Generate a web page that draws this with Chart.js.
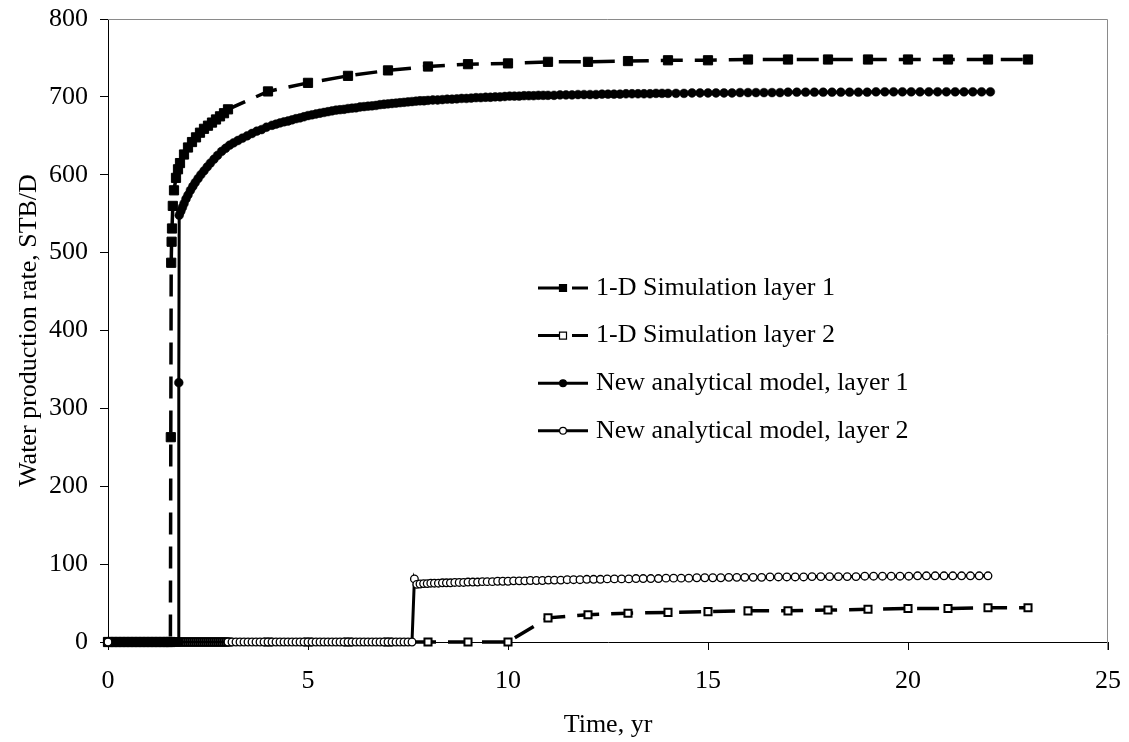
<!DOCTYPE html>
<html>
<head>
<meta charset="utf-8">
<title>Water production rate</title>
<script src="https://cdn.jsdelivr.net/npm/chart.js@4.4.0/dist/chart.umd.min.js"></script>
<style>
  html, body { margin: 0; padding: 0; background: #fff; }
  #wrap { width: 1129px; height: 742px; }
</style>
</head>
<body>
<div id="wrap"><canvas id="rateChart" width="1129" height="742"></canvas></div>
<script>
// series names, axis ticks
var seriesNames = ["1-D Simulation layer 1", "1-D Simulation layer 2",
                   "New analytical model, layer 1", "New analytical model, layer 2"];
var xTicks = [0, 5, 10, 15, 20, 25];
var yTicks = [0, 100, 200, 300, 400, 500, 600, 700, 800];

// 1-D simulation, layer 1 (yr, STB/D)
var simTime1 = [0, 0.1, 0.2, 0.3, 0.4, 0.5, 0.6, 0.7, 0.8, 0.9, 1.0, 1.1, 1.2, 1.3, 1.4, 1.5, 1.56,
                1.57, 1.58, 1.59, 1.6, 1.62, 1.65, 1.7, 1.75, 1.8,
                1.9, 2.0, 2.1, 2.2, 2.3, 2.4, 2.5, 2.6, 2.7, 2.8, 2.9, 3.0,
                4, 5, 6, 7, 8, 9, 10, 11, 12, 13, 14, 15, 16, 17, 18, 19, 20, 21, 22, 23];
var simRate1 = [0, 0, 0, 0, 0, 0, 0, 0, 0, 0, 0, 0, 0, 0, 0, 0, 0,
                263, 487, 514, 531, 560, 580, 596, 607, 615,
                626, 635, 642, 648, 654, 659, 663, 667, 671, 675, 679, 684,
                707, 718, 727, 734, 739, 742, 743, 745, 745, 746, 747, 747, 748, 748, 748, 748, 748, 748, 748, 748];

// 1-D simulation, layer 2
var simTime2 = [0, 0.05, 0.1, 0.15, 0.2, 0.25, 0.3, 0.35, 0.4, 0.45, 0.5, 0.55, 0.6, 0.65, 0.7, 0.75,
                0.8, 0.85, 0.9, 0.95, 1, 1.05, 1.1, 1.15, 1.2, 1.25, 1.3, 1.35, 1.4, 1.45, 1.5, 1.55,
                1.6, 1.65, 1.7, 1.75, 1.8, 1.85, 1.9, 1.95, 2, 2.05, 2.1, 2.15, 2.2, 2.25, 2.3, 2.35,
                2.4, 2.45, 2.5, 2.55, 2.6, 2.65, 2.7, 2.75, 2.8, 2.85, 2.9, 2.95, 3,
                4, 5, 6, 7, 8, 9, 10, 11, 12, 13, 14, 15, 16, 17, 18, 19, 20, 21, 22, 23];
var simRate2 = [0, 0, 0, 0, 0, 0, 0, 0, 0, 0, 0, 0, 0, 0, 0, 0,
                0, 0, 0, 0, 0, 0, 0, 0, 0, 0, 0, 0, 0, 0, 0, 0,
                0, 0, 0, 0, 0, 0, 0, 0, 0, 0, 0, 0, 0, 0, 0, 0,
                0, 0, 0, 0, 0, 0, 0, 0, 0, 0, 0, 0, 0,
                0, 0, 0, 0, 0, 0, 0, 31, 35, 37, 38, 39, 40, 40, 41, 42, 43, 43, 44, 44];

// analytical model, layer 1
var modelTime1 = [0, 0.1, 0.2, 0.3, 0.4, 0.5, 0.6, 0.7, 0.8, 0.9, 1.0, 1.1, 1.2, 1.3, 1.4, 1.5, 1.6, 1.7, 1.77,
                  1.77, 1.78, 1.82, 1.86, 1.9, 1.95, 2.0, 2.06, 2.12, 2.18, 2.25, 2.32, 2.4, 2.48, 2.56,
                  2.65, 2.74, 2.84, 2.94, 3.04, 3.14, 3.25, 3.36, 3.48, 3.6, 3.72, 3.84, 3.96,
                  4.1, 4.2, 4.3, 4.4, 4.5, 4.6, 4.7, 4.8, 4.9, 5.0, 5.1, 5.2, 5.3, 5.4, 5.5, 5.6, 5.7,
                  5.8, 5.9, 6.0, 6.1, 6.2, 6.3, 6.4, 6.5, 6.6, 6.7, 6.8, 6.9, 7.0, 7.1, 7.2, 7.3, 7.4,
                  7.5, 7.6, 7.7, 7.8, 7.9, 8.0,
                  8.12, 8.24, 8.36, 8.48, 8.6, 8.72, 8.84, 8.96, 9.08, 9.2, 9.32, 9.44, 9.56, 9.68,
                  9.8, 9.92, 10.04, 10.16, 10.28, 10.4, 10.52, 10.64, 10.76, 10.88, 11.0,
                  11.15, 11.3, 11.45, 11.6, 11.75, 11.9, 12.05, 12.2, 12.35, 12.5, 12.65, 12.8, 12.95,
                  13.1, 13.25, 13.4, 13.55, 13.7, 13.85, 14.0,
                  14.2, 14.4, 14.6, 14.8, 15.0, 15.2, 15.4, 15.6, 15.8, 16.0, 16.2, 16.4, 16.6, 16.8,
                  17.0, 17.22, 17.44, 17.66, 17.88, 18.1, 18.32, 18.54, 18.76, 18.98, 19.2, 19.42,
                  19.64, 19.86, 20.08, 20.3, 20.52, 20.74, 20.96, 21.18, 21.4, 21.62, 21.84, 22.06];
var modelRate1 = [0, 0, 0, 0, 0, 0, 0, 0, 0, 0, 0, 0, 0, 0, 0, 0, 0, 0, 0,
                  333, 548, 553, 558, 563, 569, 574, 580, 585, 590, 595, 600, 605, 610, 615,
                  620, 625, 630, 634, 638, 641, 644, 647, 650, 653, 656, 658, 661,
                  663.5, 665, 666.5, 668, 669, 670.5, 672, 673, 674.5, 676, 677, 678, 679, 680, 681, 682, 683,
                  683.5, 684, 685, 685.5, 686, 687, 687.5, 688, 688.5, 689, 690, 690.5, 691, 691.5, 692, 692.5, 693,
                  693.5, 694, 694.5, 695, 695, 695.5,
                  696, 696, 696.5, 697, 697, 697.5, 698, 698, 698.5, 699, 699, 699.5, 699.5, 700,
                  700, 700.5, 701, 701, 701, 701.5, 701.5, 701.5, 702, 702, 702,
                  702, 702.5, 702.5, 702.5, 703, 703, 703, 703, 703.5, 703.5, 703.5, 703.5, 704,
                  704, 704, 704, 704, 704.5, 704.5, 704.5,
                  704.5, 704.5, 705, 705, 705, 705, 705, 705, 705.5, 705.5, 705.5, 705.5, 705.5, 705.5,
                  706, 706, 706, 706, 706, 706, 706, 706, 706, 706, 706.5, 706.5,
                  706.5, 706.5, 706.5, 706.5, 706.5, 706.5, 706.5, 706.5, 706.5, 706.5, 706.5, 706.5];

// analytical model, layer 2
var modelTime2 = [0, 3.0, 3.1, 3.2, 3.3, 3.4, 3.5, 3.6, 3.7, 3.8, 3.9, 4.0, 4.1, 4.2, 4.3, 4.4, 4.5,
                  4.6, 4.7, 4.8, 4.9, 5.0, 5.1, 5.2, 5.3, 5.4, 5.5, 5.6, 5.7, 5.8, 5.9, 6.0, 6.1,
                  6.2, 6.3, 6.4, 6.5, 6.6, 6.7, 6.8, 6.9, 7.0, 7.1, 7.2, 7.3, 7.4, 7.5, 7.6,
                  7.66, 7.72, 7.8, 7.89, 7.98, 8.07, 8.16, 8.26, 8.36, 8.46, 8.56, 8.67, 8.78, 8.89,
                  9.0, 9.12, 9.24, 9.36, 9.48, 9.61, 9.74, 9.87, 10.0, 10.14, 10.28, 10.42, 10.56,
                  10.71, 10.86, 11.01, 11.16, 11.32, 11.48, 11.64, 11.8, 11.97, 12.14, 12.31, 12.48,
                  12.66, 12.84, 13.02, 13.2, 13.38, 13.57, 13.76, 13.95, 14.14, 14.33, 14.52, 14.72,
                  14.92, 15.12, 15.32, 15.52, 15.72, 15.92, 16.13, 16.34, 16.55, 16.76, 16.97, 17.18,
                  17.39, 17.6, 17.82, 18.04, 18.26, 18.48, 18.7, 18.92, 19.14, 19.36, 19.58, 19.8,
                  20.02, 20.24, 20.46, 20.68, 20.9, 21.12, 21.34, 21.56, 21.78, 22.0];
var modelRate2 = [0, 0, 0, 0, 0, 0, 0, 0, 0, 0, 0, 0, 0, 0, 0, 0, 0,
                  0, 0, 0, 0, 0, 0, 0, 0, 0, 0, 0, 0, 0, 0, 0, 0,
                  0, 0, 0, 0, 0, 0, 0, 0, 0, 0, 0, 0, 0, 0, 0,
                  81, 74, 74.5, 75, 75, 75.5, 75.5, 75.5, 76, 76, 76, 76.5, 76.5, 76.5,
                  77, 77, 77, 77.5, 77.5, 77.5, 78, 78, 78, 78.5, 78.5, 78.5, 79,
                  79, 79, 79.5, 79.5, 79.5, 80, 80, 80, 80.5, 80.5, 80.5, 81,
                  81, 81, 81, 81.5, 81.5, 81.5, 81.5, 82, 82, 82, 82, 82.5,
                  82.5, 82.5, 82.5, 83, 83, 83, 83, 83, 83.5, 83.5, 83.5, 83.5,
                  83.5, 84, 84, 84, 84, 84, 84, 84.5, 84.5, 84.5, 84.5, 84.5,
                  84.5, 85, 85, 85, 85, 85, 85, 85, 85, 85];

function pairs(t, q) {
  return t.map(function (x, i) { return { x: x, y: q[i] }; });
}

// keep the plot area where layout.padding puts it (no extra room for edge labels)
function noEdgePadding(scale) {
  scale.paddingTop = 0;
  scale.paddingBottom = 0;
  scale.paddingLeft = 0;
  scale.paddingRight = 0;
}

var serif = "'Liberation Serif', 'Times New Roman', serif";
Chart.defaults.font.family = serif;
Chart.defaults.font.size = 26;
Chart.defaults.color = "#000";

// gray frame on the top and right of the plot area
var plotFrame = {
  id: "plotFrame",
  beforeDatasetsDraw: function (chart) {
    var a = chart.chartArea, ctx = chart.ctx;
    ctx.save();
    ctx.strokeStyle = "#8a8a8a";
    ctx.lineWidth = 1;
    ctx.beginPath();
    ctx.moveTo(a.left, Math.round(a.top) + 0.5);
    ctx.lineTo(Math.round(a.right) - 0.5, Math.round(a.top) + 0.5);
    ctx.lineTo(Math.round(a.right) - 0.5, a.bottom + 8);
    ctx.stroke();
    ctx.restore();
  }
};

// legend drawn inside the plot: line sample, marker, label
var insideLegend = {
  id: "insideLegend",
  afterDraw: function (chart, args, opts) {
    var ctx = chart.ctx;
    chart.data.datasets.forEach(function (ds, i) {
      var y = opts.top + i * opts.rowGap;
      var x0 = opts.left, x1 = opts.left + opts.lineLength, xm = (x0 + x1) / 2;
      ctx.save();
      ctx.strokeStyle = ds.borderColor;
      ctx.lineWidth = 3;
      ctx.setLineDash(ds.borderDash || []);
      ctx.beginPath();
      ctx.moveTo(x0, y);
      ctx.lineTo(x1, y);
      ctx.stroke();
      ctx.setLineDash([]);
      ctx.fillStyle = ds.pointBackgroundColor;
      ctx.strokeStyle = ds.pointBorderColor;
      ctx.lineWidth = 1.2;
      ctx.beginPath();
      if (ds.pointStyle === "rect") {
        ctx.rect(xm - 3.5, y - 3.5, 7, 7);
      } else {
        ctx.arc(xm, y, 3.4, 0, Math.PI * 2);
      }
      ctx.fill();
      ctx.stroke();
      ctx.fillStyle = "#000";
      ctx.font = "26px " + serif;
      ctx.textBaseline = "middle";
      ctx.textAlign = "left";
      ctx.fillText(ds.label, x1 + opts.textGap, y);
      ctx.restore();
    });
  }
};

var ctx = document.getElementById("rateChart");

var config = {
  type: "scatter",
  data: {
    datasets: [
      {
        label: seriesNames[0],
        data: pairs(simTime1, simRate1),
        showLine: true,
        borderColor: "#000",
        borderWidth: 3.5,
        borderDash: [22, 12],
        pointStyle: "rect",
        pointRadius: 6.5,
        pointBackgroundColor: "#000",
        pointBorderColor: "#000",
        pointBorderWidth: 1,
        clip: false,
        order: 4
      },
      {
        label: seriesNames[1],
        data: pairs(simTime2, simRate2),
        showLine: true,
        borderColor: "#000",
        borderWidth: 3.5,
        borderDash: [22, 12],
        pointStyle: "rect",
        pointRadius: 5,
        pointBackgroundColor: "#fff",
        pointBorderColor: "#000",
        pointBorderWidth: 2,
        clip: false,
        order: 3
      },
      {
        label: seriesNames[2],
        data: pairs(modelTime1, modelRate1),
        showLine: true,
        borderColor: "#000",
        borderWidth: 3,
        pointStyle: "circle",
        pointRadius: 4.4,
        pointBackgroundColor: "#000",
        pointBorderColor: "#000",
        pointBorderWidth: 0.5,
        clip: false,
        order: 2
      },
      {
        label: seriesNames[3],
        data: pairs(modelTime2, modelRate2),
        showLine: true,
        borderColor: "#000",
        borderWidth: 3,
        pointStyle: "circle",
        pointRadius: 3.8,
        pointBackgroundColor: "#fff",
        pointBorderColor: "#000",
        pointBorderWidth: 1.3,
        clip: false,
        order: 1
      }
    ]
  },
  options: {
    responsive: false,
    animation: false,
    events: [],
    layout: { padding: { top: 19, right: 21, bottom: 0, left: 0 } },
    scales: {
      x: {
        type: "linear",
        min: xTicks[0],
        max: xTicks[xTicks.length - 1],
        afterBuildTicks: function (scale) {
          scale.ticks = xTicks.map(function (v) { return { value: v }; });
        },
        ticks: { padding: 16, color: "#000", font: { size: 26 } },
        grid: { drawOnChartArea: false, tickLength: 8, color: "#000" },
        border: { color: "#000", width: 1 },
        title: { display: true, text: "Time, yr", color: "#000", font: { size: 26 }, padding: { top: 0, bottom: 1 } },
        afterFit: function (scale) { scale.height = 100; noEdgePadding(scale); }
      },
      y: {
        type: "linear",
        min: yTicks[0],
        max: yTicks[yTicks.length - 1],
        afterBuildTicks: function (scale) {
          scale.ticks = yTicks.map(function (v) { return { value: v }; });
        },
        ticks: { padding: 12, color: "#000", font: { size: 26 } },
        grid: { drawOnChartArea: false, tickLength: 8, color: "#000" },
        border: { color: "#000", width: 1 },
        title: { display: true, text: "Water production rate, STB/D", color: "#000", font: { size: 26 }, padding: { top: 14, bottom: 0 } },
        afterFit: function (scale) { scale.width = 108; noEdgePadding(scale); }
      }
    },
    plugins: {
      legend: { display: false },
      tooltip: { enabled: false },
      insideLegend: { left: 538, top: 288, rowGap: 47.6, lineLength: 50, textGap: 8 }
    }
  },
  plugins: [plotFrame, insideLegend]
};

var rateChart = new Chart(ctx, config);
</script>
</body>
</html>
